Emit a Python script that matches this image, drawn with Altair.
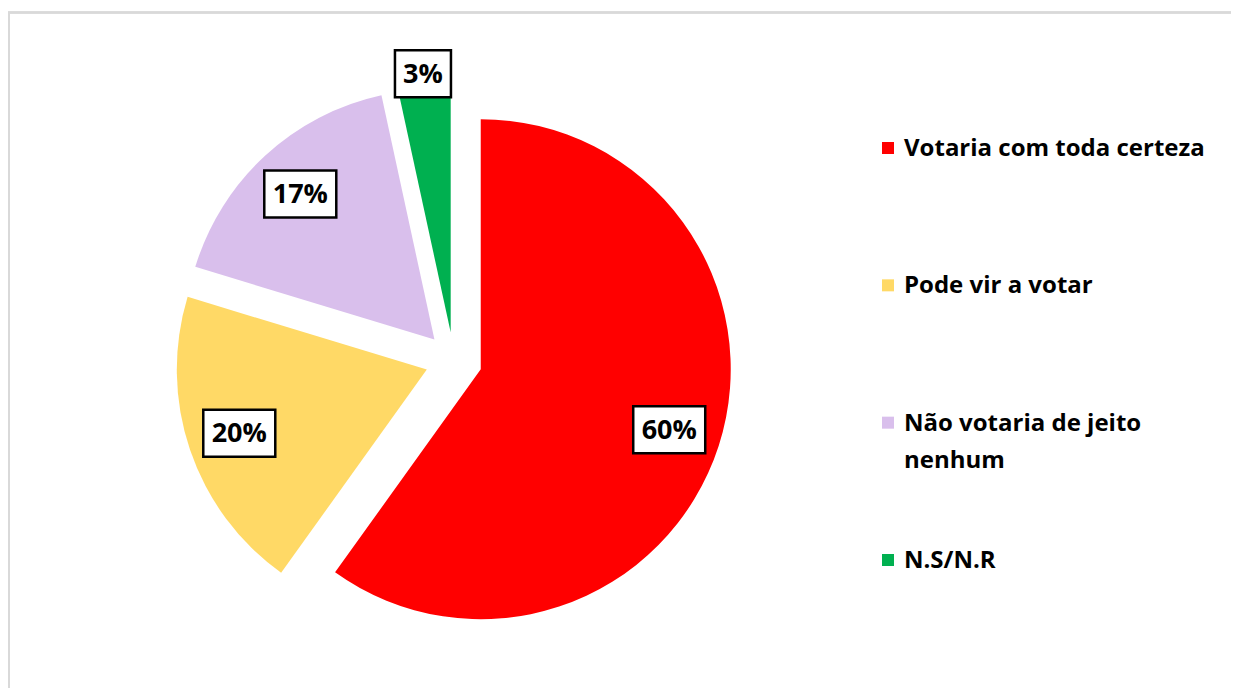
import altair as alt
import pandas as pd

# ---- data ----
categories = ["Votaria com toda certeza", "Pode vir a votar",
              "Não votaria de jeito nenhum", "N.S/N.R"]
values = [59.9, 19.8, 16.9, 3.4]
colors = ["#FF0000", "#FFD966", "#D9BFEC", "#00B050"]
legend_labels = ["Votaria com toda certeza", "Pode vir a votar",
                 "Não votaria de jeito\nnenhum", "N.S/N.R"]

# ---- layout / style constants ----
W, H = 1223, 680
CX, CY = 445.7, 352.5
R = 250
EXPLODE = 28.4
FONT = "Open Sans"

df = pd.DataFrame({
    "cat": categories,
    "value": values,
    "order": list(range(len(categories))),
    "legend": legend_labels,
})

base = (
    alt.Chart(df)
    .transform_window(cum="sum(value)", sort=[alt.SortField("order")], frame=[None, 0])
    .transform_joinaggregate(total="sum(value)")
    .transform_calculate(t0="2*PI*(datum.cum - datum.value)/datum.total")
    .transform_calculate(t1="2*PI*datum.cum/datum.total")
    .transform_calculate(tm="(datum.t0 + datum.t1)/2")
    .transform_calculate(px=f"{CX} + {EXPLODE}*sin(datum.tm)")
    .transform_calculate(py=f"{CY} - {EXPLODE}*cos(datum.tm)")
    .transform_calculate(lr="datum.value < 5 ? 260 : 198")
    .transform_calculate(label="format(datum.value, '.0f') + '%'")
    .transform_calculate(lx="datum.px + datum.lr*sin(datum.tm)")
    .transform_calculate(ly="datum.py - datum.lr*cos(datum.tm)")
    .transform_calculate(bw="24 + 16*length(datum.label)")
    .transform_calculate(bx0="datum.lx - datum.bw/2")
    .transform_calculate(bx1="datum.lx + datum.bw/2")
    .transform_calculate(by0="datum.ly - 23.5")
    .transform_calculate(by1="datum.ly + 23.5")
)

color_enc = alt.Color("cat:N", scale=alt.Scale(domain=categories, range=colors), legend=None)

arcs = base.mark_arc(outerRadius=R).encode(
    theta=alt.Theta("t0:Q", scale=None),
    theta2=alt.Theta2("t1:Q"),
    x=alt.X("px:Q", scale=None, axis=None),
    y=alt.Y("py:Q", scale=None, axis=None),
    color=color_enc,
)

boxes = base.mark_rect(fill="white", stroke="black", strokeWidth=2.5).encode(
    x=alt.X("bx0:Q", scale=None, axis=None),
    x2=alt.X2("bx1:Q"),
    y=alt.Y("by0:Q", scale=None, axis=None),
    y2=alt.Y2("by1:Q"),
)

pct = base.mark_text(font=FONT, fontSize=27, fontWeight="bold", color="black",
                     align="center", baseline="middle", dy=1).encode(
    x=alt.X("lx:Q", scale=None, axis=None),
    y=alt.Y("ly:Q", scale=None, axis=None),
    text="label:N",
)

leg_y = alt.Y("cat:N", scale=alt.Scale(type="point", domain=categories, range=[140, 552], padding=0),
              axis=None)

leg_sq = alt.Chart(df).mark_square(size=144, opacity=1).encode(
    x=alt.value(880), y=leg_y, color=color_enc,
)
leg_txt = alt.Chart(df).mark_text(align="left", baseline="alphabetic", dy=8, font=FONT,
                                  fontSize=24, fontWeight="bold", color="black",
                                  lineBreak="\n", lineHeight=37).encode(
    x=alt.value(896), y=leg_y, text="legend:N",
)

border_left = alt.Chart(df).mark_rule(color="#D9D9D9", strokeWidth=2).encode(
    x=alt.value(1), y=alt.value(4.5), y2=alt.value(H)
)
border_top = alt.Chart(df).mark_rule(color="#D9D9D9", strokeWidth=2).encode(
    x=alt.value(0), x2=alt.value(W), y=alt.value(4.5)
)

chart = (
    alt.layer(border_left, border_top, arcs, boxes, pct, leg_sq, leg_txt)
    .resolve_scale(x="independent", y="independent")
    .properties(width=W, height=H, autosize=alt.AutoSizeParams(type="none"), padding=0,
                background="white")
    .configure_view(stroke=None)
)

chart.save("out.html", embed_options={"renderer": "svg", "actions": False})
